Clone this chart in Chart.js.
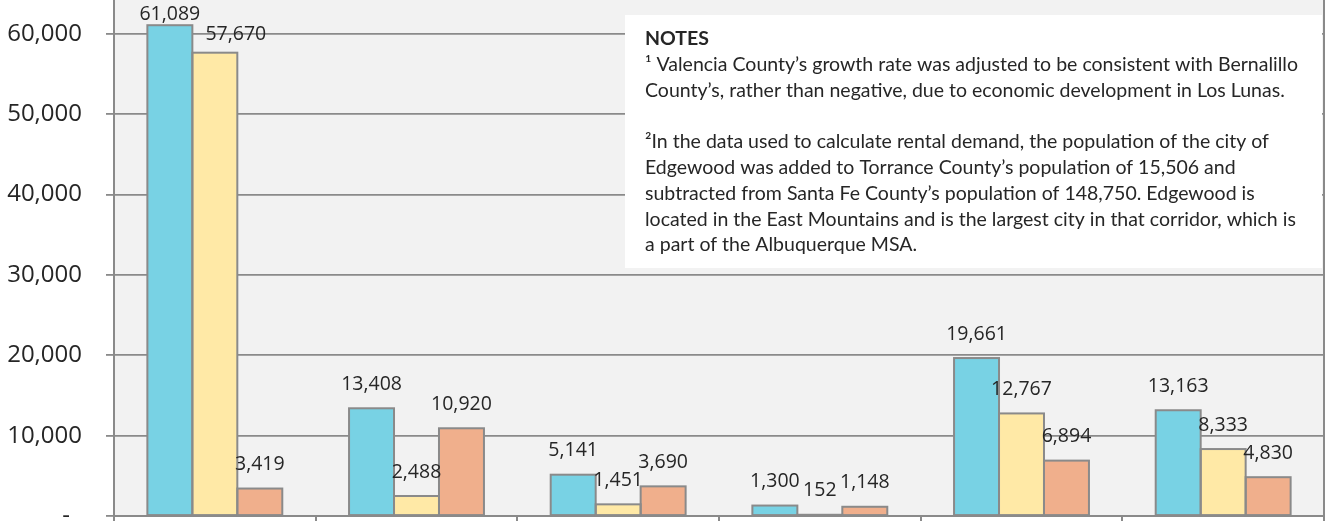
<!DOCTYPE html>
<html>
<head>
<meta charset="utf-8">
<script src="https://cdn.jsdelivr.net/npm/chart.js@4.4.0/dist/chart.umd.min.js"></script>
<style>
  html, body { margin: 0; padding: 0; background: #ffffff; }
  #wrap { width: 1326px; height: 521px; overflow: hidden; }
</style>
</head>
<body>
<div id="wrap"><canvas id="demandChart" width="1326" height="521"></canvas></div>
<script>
// Groups along the x axis (their labels sit below the visible frame)
const groups = ['Bernalillo', 'Sandoval', 'Santa Fe', 'Torrance', 'Valencia', 'Albuquerque MSA'];

const seriesNames = ['Series 1', 'Series 2', 'Series 3'];
const seriesOne = [61089, 13408, 5141, 1300, 19661, 13163];
const seriesTwo = [57670, 2488, 1451, 152, 12767, 8333];
const seriesThree = [3419, 10920, 3690, 1148, 6894, 4830];

const yTicks = [0, 10000, 20000, 30000, 40000, 50000, 60000];
const yMax = 64228;

const notesTitle = 'NOTES';
const notesLines = [
    '\u00b9 Valencia County\u2019s growth rate was adjusted to be consistent with Bernalillo',
    'County\u2019s, rather than negative, due to economic development in Los Lunas.',
    '',
    '\u00b2In the data used to calculate rental demand, the population of the city of',
    'Edgewood was added to Torrance County\u2019s population of 15,506 and',
    'subtracted from Santa Fe County\u2019s population of 148,750. Edgewood is',
    'located in the East Mountains and is the largest city in that corridor, which is',
    'a part of the Albuquerque MSA.'
];

const colors = ['#78d2e4', '#ffe9a6', '#f0af8c'];
const edgeColor = '#8a8a8a';

// hand-placed labels in the crowded first group: [dx, dy] in px
const labelNudge = { '0-0': [0, 13], '1-0': [21, 6] };

function fmt(v) {
    return v.toLocaleString('en-US');
}

// grey plot background
const plotBackground = {
    id: 'plotBackground',
    beforeDraw(chart) {
        const a = chart.chartArea;
        const ctx = chart.ctx;
        ctx.save();
        ctx.fillStyle = '#f2f2f2';
        ctx.fillRect(a.left, a.top, a.right - a.left, a.bottom - a.top);
        ctx.restore();
    }
};

// bar outlines (centred on the edges, so neighbours share one line) and value labels
const barDecor = {
    id: 'barDecor',
    afterDatasetsDraw(chart) {
        const ctx = chart.ctx;
        ctx.save();
        chart.data.datasets.forEach(function (ds, di) {
            const meta = chart.getDatasetMeta(di);
            meta.data.forEach(function (bar) {
                const left = bar.x - bar.width / 2;
                ctx.strokeStyle = edgeColor;
                ctx.lineWidth = 2;
                ctx.strokeRect(left, bar.y, bar.width, bar.base - bar.y);
            });
        });
        ctx.font = '19.5px "Open Sans"';
        ctx.fillStyle = '#262626';
        ctx.textAlign = 'center';
        ctx.textBaseline = 'middle';
        chart.data.datasets.forEach(function (ds, di) {
            const meta = chart.getDatasetMeta(di);
            meta.data.forEach(function (bar, i) {
                const n = labelNudge[di + '-' + i] || [0, 0];
                ctx.fillText(fmt(ds.data[i]), bar.x + n[0], bar.y - 24 + n[1]);
            });
        });
        ctx.restore();
    }
};

// notes text box and the plot's right border
const notesBox = {
    id: 'notesBox',
    afterDraw(chart) {
        const ctx = chart.ctx;
        const a = chart.chartArea;
        ctx.save();
        ctx.strokeStyle = edgeColor;
        ctx.lineWidth = 2;
        ctx.beginPath();
        ctx.moveTo(a.right, a.top);
        ctx.lineTo(a.right, a.bottom);
        ctx.stroke();

        ctx.fillStyle = '#ffffff';
        ctx.fillRect(625, 15, 697, 253);

        const textLeft = 645;
        const lineH = 25.8;
        ctx.fillStyle = '#262626';
        ctx.textAlign = 'left';
        ctx.textBaseline = 'alphabetic';

        // squeeze the text so the first line spans its box width
        ctx.font = '19px Lato';
        const sx = 653 / ctx.measureText(notesLines[0]).width;

        ctx.save();
        ctx.translate(textLeft, 0);
        ctx.scale(sx, 1);
        ctx.font = 'bold 19px Lato';
        ctx.fillText(notesTitle, 0, 45);
        ctx.font = '19px Lato';
        notesLines.forEach(function (line, k) {
            if (line) ctx.fillText(line, 0, 45 + lineH * (k + 1));
        });
        ctx.restore();
        ctx.restore();
    }
};

const ctx = document.getElementById('demandChart').getContext('2d');
new Chart(ctx, {
    type: 'bar',
    data: {
        labels: groups,
        datasets: [
            { label: seriesNames[0], data: seriesOne, backgroundColor: colors[0], borderWidth: 0 },
            { label: seriesNames[1], data: seriesTwo, backgroundColor: colors[1], borderWidth: 0 },
            { label: seriesNames[2], data: seriesThree, backgroundColor: colors[2], borderWidth: 0 }
        ]
    },
    options: {
        responsive: false,
        animation: false,
        devicePixelRatio: 1,
        datasets: { bar: { categoryPercentage: 0.669, barPercentage: 1 } },
        layout: { padding: { left: 0, right: 2, top: 0, bottom: 0 } },
        plugins: {
            legend: { display: false },
            tooltip: { enabled: false }
        },
        scales: {
            x: {
                grid: { drawOnChartArea: false, color: edgeColor, lineWidth: 2, tickLength: 5, offset: true },
                border: { display: true, color: edgeColor, width: 2 },
                ticks: { display: false },
                afterFit(scale) {
                    scale.height = 5;
                    scale.paddingLeft = 0;
                    scale.paddingRight = 0;
                }
            },
            y: {
                min: 0,
                max: yMax,
                grid: { color: edgeColor, lineWidth: 1.8, tickLength: 8 },
                border: { display: true, color: edgeColor, width: 2 },
                afterBuildTicks(scale) {
                    scale.ticks = yTicks.map(function (v) { return { value: v }; });
                },
                ticks: {
                    padding: 24,
                    color: '#262626',
                    font: { family: 'Open Sans', size: 24 },
                    callback: function (value) {
                        return value === 0 ? '-\u2002' : fmt(value);
                    }
                },
                afterFit(scale) {
                    scale.width = 114;
                    scale.paddingTop = 0;
                    scale.paddingBottom = 0;
                }
            }
        }
    },
    plugins: [plotBackground, barDecor, notesBox]
});
</script>
</body>
</html>
